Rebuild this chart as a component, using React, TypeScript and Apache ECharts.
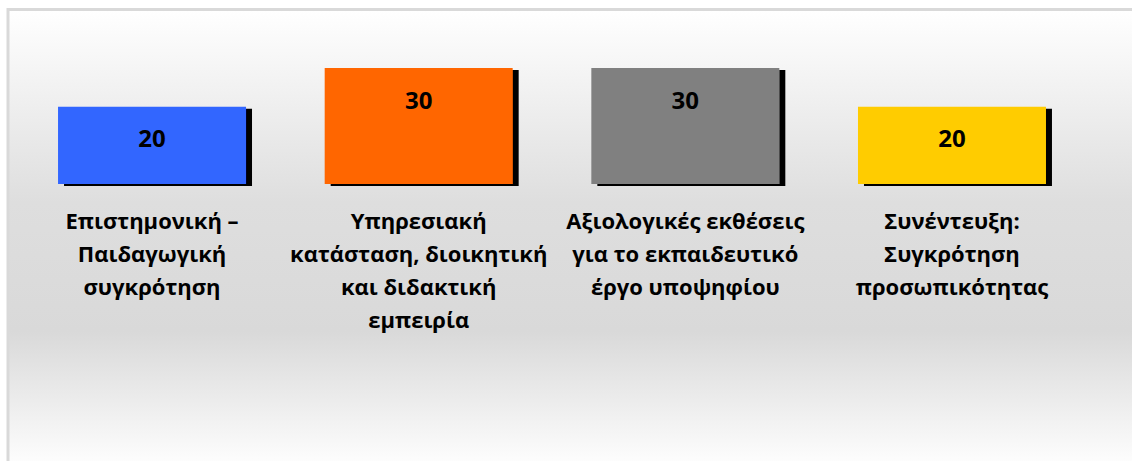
import React, { useEffect, useRef } from "react";
import * as echarts from "echarts";

const categories = [
  "Επιστημονική –\nΠαιδαγωγική\nσυγκρότηση",
  "Υπηρεσιακή\nκατάσταση, διοικητική\nκαι διδακτική\nεμπειρία",
  "Αξιολογικές εκθέσεις\nγια το εκπαιδευτικό\nέργο υποψηφίου",
  "Συνέντευξη:\nΣυγκρότηση\nπροσωπικότητας",
];
const values = [20, 30, 30, 20];
const barColors = ["#3366FF", "#FF6600", "#808080", "#FFCC00"];

export default function App() {
  const ref = useRef<HTMLDivElement>(null);
  useEffect(() => {
    if (!ref.current) return;
    const chart = echarts.init(ref.current, null, { renderer: "svg" });
    chart.setOption({
      animation: false,
      backgroundColor: "#ffffff",
      graphic: [
        {
          type: "rect",
          z: -100,
          silent: true,
          shape: { x: 8, y: 9.5, width: 1130, height: 460 },
          style: {
            fill: new echarts.graphic.LinearGradient(0, 0, 0, 1, [
              { offset: 0, color: "#ffffff" },
              { offset: 0.42, color: "#dedede" },
              { offset: 0.7, color: "#d9d9d9" },
              { offset: 1, color: "#ffffff" },
            ]),
            stroke: "#d9d9d9",
            lineWidth: 3,
          },
        },
      ],
      grid: { left: 18.7, right: 46.7, top: 68, bottom: 277, containLabel: false },
      xAxis: {
        type: "category",
        data: categories,
        axisLine: { show: false },
        axisTick: { show: false },
        splitLine: { show: false },
        axisLabel: {
          interval: 0,
          margin: 19,
          color: "#000000",
          fontFamily: "Open Sans",
          fontWeight: "bold",
          fontSize: 22,
          lineHeight: 33,
        },
      },
      yAxis: {
        type: "value",
        min: 0,
        max: 30,
        show: false,
        splitLine: { show: false },
      },
      series: [
        {
          type: "bar",
          data: values.map((v, i) => ({ value: v, itemStyle: { color: barColors[i] } })),
          barCategoryGap: "29.5%",
          itemStyle: {
            shadowColor: "#000000",
            shadowBlur: 1,
            shadowOffsetX: 6,
            shadowOffsetY: 2,
          },
          label: {
            show: true,
            position: "insideTop",
            distance: 19,
            color: "#000000",
            fontFamily: "Open Sans",
            fontWeight: "bold",
            fontSize: 24,
            lineHeight: 24,
          },
        },
      ],
    });
    return () => chart.dispose();
  }, []);
  return (
    <div
      ref={ref}
      style={{ position: "fixed", left: 0, top: 0, width: 1132, height: 461 }}
    />
  );
}
